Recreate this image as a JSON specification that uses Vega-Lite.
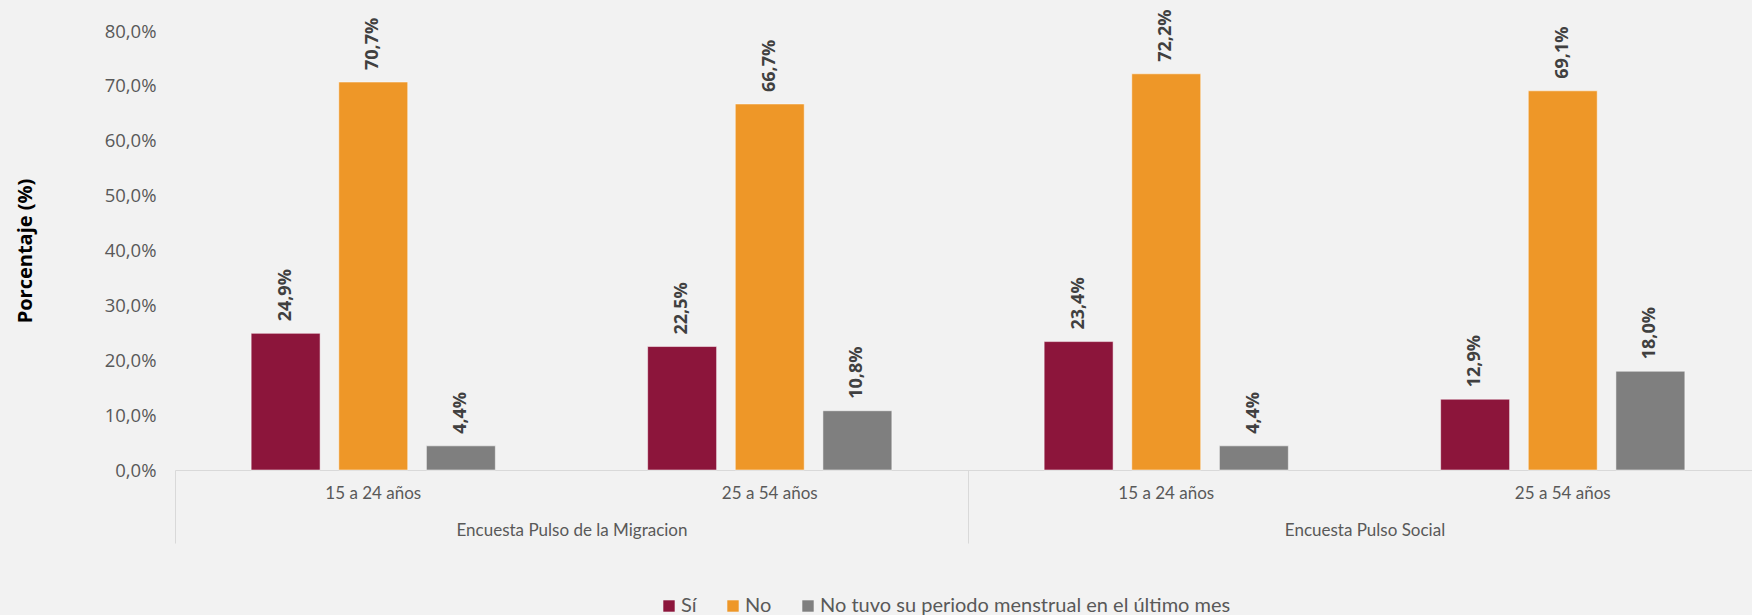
{
  "$schema": "https://vega.github.io/schema/vega-lite/v6.json",
  "width": 1586,
  "height": 439,
  "autosize": "none",
  "padding": {"left": 175, "top": 31, "right": 0, "bottom": 145},
  "background": "#f2f2f2",
  "config": {
    "view": {"stroke": null},
    "locale": {"number": {"decimal": ",", "thousands": ".", "grouping": [3], "currency": ["", " €"]}}
  },
  "data": {
    "values": [
      {"encuesta": "Encuesta Pulso de la Migracion", "grupo": "Encuesta Pulso de la Migracion|15 a 24 años", "respuesta": "Sí", "valor": 0.249},
      {"encuesta": "Encuesta Pulso de la Migracion", "grupo": "Encuesta Pulso de la Migracion|15 a 24 años", "respuesta": "No", "valor": 0.707},
      {"encuesta": "Encuesta Pulso de la Migracion", "grupo": "Encuesta Pulso de la Migracion|15 a 24 años", "respuesta": "No tuvo su periodo menstrual en el último mes", "valor": 0.044},
      {"encuesta": "Encuesta Pulso de la Migracion", "grupo": "Encuesta Pulso de la Migracion|25 a 54 años", "respuesta": "Sí", "valor": 0.225},
      {"encuesta": "Encuesta Pulso de la Migracion", "grupo": "Encuesta Pulso de la Migracion|25 a 54 años", "respuesta": "No", "valor": 0.667},
      {"encuesta": "Encuesta Pulso de la Migracion", "grupo": "Encuesta Pulso de la Migracion|25 a 54 años", "respuesta": "No tuvo su periodo menstrual en el último mes", "valor": 0.108},
      {"encuesta": "Encuesta Pulso Social", "grupo": "Encuesta Pulso Social|15 a 24 años", "respuesta": "Sí", "valor": 0.234},
      {"encuesta": "Encuesta Pulso Social", "grupo": "Encuesta Pulso Social|15 a 24 años", "respuesta": "No", "valor": 0.722},
      {"encuesta": "Encuesta Pulso Social", "grupo": "Encuesta Pulso Social|15 a 24 años", "respuesta": "No tuvo su periodo menstrual en el último mes", "valor": 0.044},
      {"encuesta": "Encuesta Pulso Social", "grupo": "Encuesta Pulso Social|25 a 54 años", "respuesta": "Sí", "valor": 0.129},
      {"encuesta": "Encuesta Pulso Social", "grupo": "Encuesta Pulso Social|25 a 54 años", "respuesta": "No", "valor": 0.691},
      {"encuesta": "Encuesta Pulso Social", "grupo": "Encuesta Pulso Social|25 a 54 años", "respuesta": "No tuvo su periodo menstrual en el último mes", "valor": 0.180}
    ]
  },
  "layer": [
    {
      "encoding": {
        "x": {
          "field": "grupo", "type": "nominal", "sort": null,
          "scale": {"paddingInner": 0.337, "paddingOuter": 0.1685},
          "axis": {
            "orient": "bottom", "title": null, "labelAngle": 0,
            "domain": true, "domainColor": "#d9d9d9", "domainWidth": 1,
            "ticks": false, "labelPadding": 23, "labelBaseline": "middle",
            "labelFont": "Lato", "labelFontSize": 17, "labelColor": "#595959", "labelLimit": 0,
            "labelExpr": "split(datum.label, '|')[1]"
          }
        },
        "xOffset": {
          "field": "respuesta", "type": "nominal",
          "sort": ["Sí", "No", "No tuvo su periodo menstrual en el último mes"],
          "scale": {"paddingInner": 0.213, "paddingOuter": 0.1065}
        },
        "y": {
          "field": "valor", "type": "quantitative",
          "scale": {"domain": [0, 0.8]},
          "axis": {
            "values": [0, 0.1, 0.2, 0.3, 0.4, 0.5, 0.6, 0.7, 0.8],
            "format": ".1%", "grid": false, "domain": false, "ticks": false,
            "labelFont": "Open Sans", "labelFontSize": 18.5, "labelColor": "#595959", "labelPadding": 19,
            "title": "Porcentaje (%)", "titleFont": "Open Sans", "titleFontSize": 20, "titleFontWeight": "bold",
            "titleColor": "#000000", "titleX": -150, "titleY": 219.5, "titleAlign": "center", "titleBaseline": "middle"
          }
        }
      },
      "layer": [
        {
          "mark": {"type": "bar", "stroke": "#ffffff", "strokeOpacity": 0.5, "strokeWidth": 1},
          "encoding": {
            "color": {
              "field": "respuesta", "type": "nominal",
              "sort": ["Sí", "No", "No tuvo su periodo menstrual en el último mes"],
              "scale": {"domain": ["Sí", "No", "No tuvo su periodo menstrual en el último mes"], "range": ["#8c153b", "#ee9728", "#7f7f7f"]},
              "legend": {
                "orient": "none", "legendX": 484, "legendY": 565, "direction": "horizontal",
                "title": null, "symbolType": "square", "symbolSize": 130, "symbolStrokeWidth": 0,
                "labelFont": "Lato", "labelFontSize": 20, "labelColor": "#595959", "labelLimit": 0,
                "columnPadding": 26, "labelOffset": 2
              }
            }
          }
        },
        {
          "mark": {"type": "text", "angle": -90, "align": "left", "baseline": "middle", "dx": 12,
                   "font": "Open Sans", "fontWeight": "bold", "fontSize": 18, "color": "#404040"},
          "encoding": {
            "text": {"field": "valor", "type": "quantitative", "format": ".1%"}
          }
        }
      ]
    },
    {
      "mark": {"type": "text", "text": "", "opacity": 0},
      "encoding": {
        "x": {
          "field": "encuesta", "type": "nominal",
          "sort": ["Encuesta Pulso de la Migracion", "Encuesta Pulso Social"],
          "scale": {"paddingInner": 0, "paddingOuter": 0},
          "axis": {
            "orient": "bottom", "title": null, "labelAngle": 0, "domain": false,
            "ticks": true, "tickBand": "extent", "tickSize": 73, "tickColor": "#d9d9d9", "tickWidth": 1,
            "labelPadding": -13, "labelBaseline": "middle", "labelLimit": 0,
            "labelFont": "Lato", "labelFontSize": 17, "labelColor": "#595959"
          }
        }
      }
    }
  ],
  "resolve": {"scale": {"x": "independent"}}
}
